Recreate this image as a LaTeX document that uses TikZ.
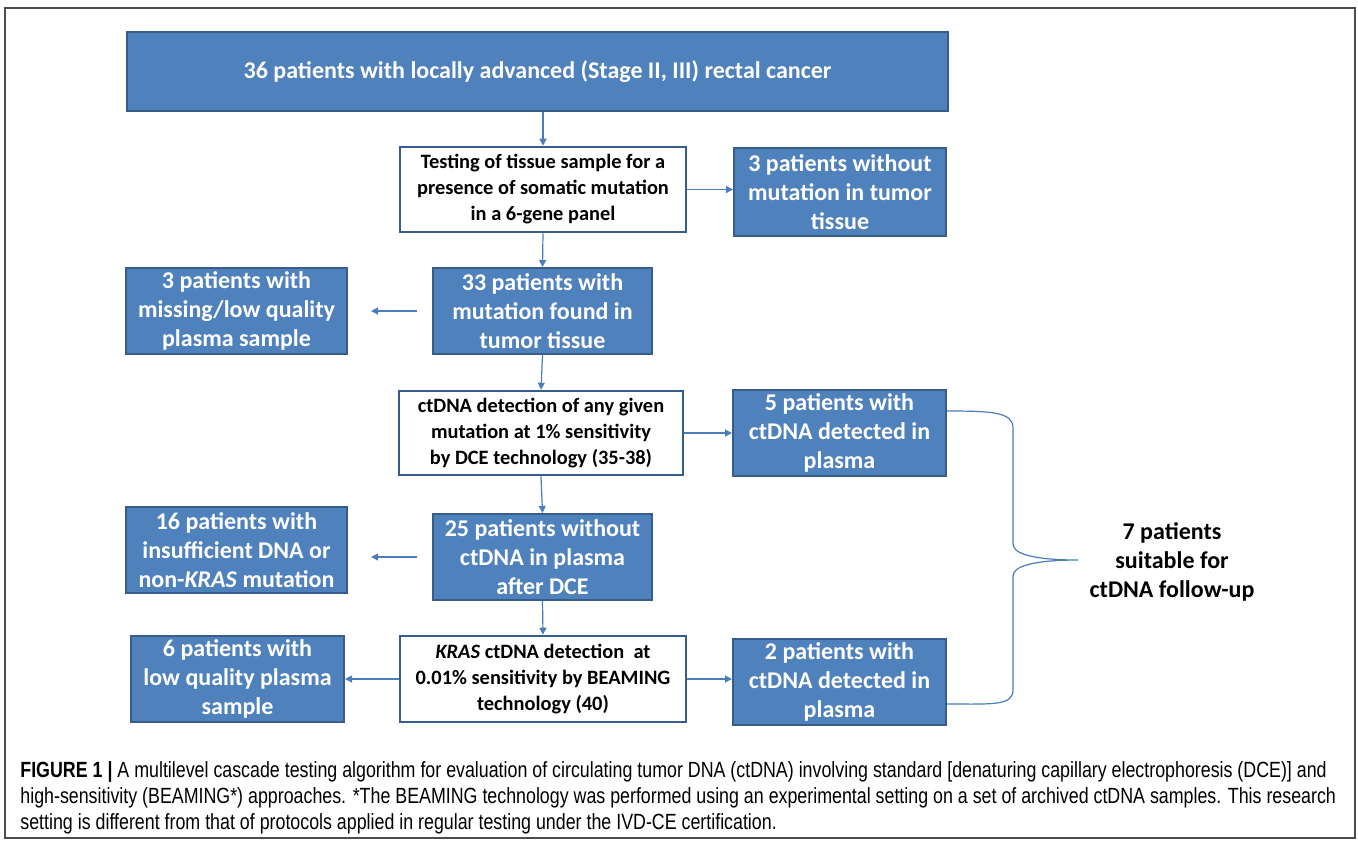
\documentclass[tikz,border=0pt]{standalone}
\usepackage{fontspec}
\setmainfont{Carlito}
\newfontfamily\capfont[FakeStretch=0.81]{Liberation Sans}
\usepackage{tikz}
\usetikzlibrary{arrows.meta,positioning,calc}
\definecolor{boxblue}{HTML}{4F81BD}
\definecolor{boxedge}{HTML}{385D8A}
\definecolor{linkblue}{HTML}{4A7EBB}

\begin{document}
\begin{tikzpicture}[
    x=0.5pt, y=-0.5pt,
    font=\bfseries\fontsize{12}{14.5}\selectfont,
    bluebox/.style={draw=boxedge, fill=boxblue, text=white, line width=1pt, align=center, minimum height=43pt, inner sep=1pt},
    testbox/.style={draw=boxedge, fill=white, text=black, line width=1.3pt, align=center, minimum height=42.5pt, minimum width=143pt, inner sep=1pt, font=\bfseries\fontsize{10.2}{13}\selectfont},
    arrow/.style={-{Triangle[length=3.5pt,width=3.5pt]}, linkblue, line width=0.6pt},
    brace/.style={linkblue, line width=0.6pt}
]
\useasboundingbox (0,0) rectangle (1358,843);
\draw[black!70, line width=0.7pt] (5,8) rectangle (1355,838);

% main column
\node[bluebox, minimum width=410.5pt, minimum height=39.5pt] (top) at (537.5,71.5) {36 patients with locally advanced (Stage II, III) rectal cancer};
\node[testbox] (tissue) at (543,189.5) {Testing of tissue sample for a\\presence of somatic mutation\\in a 6-gene panel};
\node[bluebox, minimum width=109.5pt] (mut) at (542.5,311) {33 patients with\\mutation found in\\tumor tissue};
\node[testbox, minimum width=142pt, minimum height=42pt] (dce) at (541,433) {ctDNA detection of any given\\mutation at 1\% sensitivity\\by DCE technology (35-38)};
\node[bluebox, minimum width=109.5pt] (nodce) at (542.5,557) {25 patients without\\ctDNA in plasma\\after DCE};
\node[testbox, minimum height=43pt] (beaming) at (543,679) {\textit{KRAS} ctDNA detection~ at\\0.01\% sensitivity by BEAMING\\technology (40)};

% right column
\node[bluebox, minimum width=106pt, minimum height=44pt] (nomut) at (840,192) {3 patients without\\mutation in tumor\\tissue};
\node[bluebox, minimum width=106.5pt] (dce5) at (839.5,433) {5 patients with\\ctDNA detected in\\plasma};
\node[bluebox, minimum width=106.5pt] (beam2) at (839.5,682) {2 patients with\\ctDNA detected in\\plasma};

% left column
\node[bluebox, minimum width=110.5pt] (missing) at (236.5,311) {3 patients with\\missing/low quality\\plasma sample};
\node[bluebox, minimum width=110.5pt] (insuff) at (236.5,550) {16 patients with\\insufficient DNA or\\non-\textit{KRAS} mutation};
\node[bluebox, minimum width=106.5pt] (lowq) at (237.5,679) {6 patients with\\low quality plasma\\sample};

% arrows
\draw[arrow] (top.south -| tissue.north) -- (tissue.north);
\draw[arrow] (tissue.east) -- (tissue.east -| nomut.west);
\draw[arrow] (tissue.south) -- (mut.north);
\draw[arrow, shorten <=7.5pt, shorten >=11.5pt] (mut.west) -- (mut.west -| missing.east);
\draw[arrow] (mut.south) -- (dce.north);
\draw[arrow] (dce.east) -- (dce.east -| dce5.west);
\draw[arrow] (dce.south) -- (nodce.north);
\draw[arrow, shorten <=7.5pt, shorten >=11.5pt] (nodce.west) -- (nodce.west -| insuff.east);
\draw[arrow] (nodce.south) -- (beaming.north);
\draw[arrow] (beaming.west) -- (beaming.west -| lowq.east);
\draw[arrow] (beaming.east) -- (beaming.east -| beam2.west);

% brace to the follow-up group
\coordinate (b1) at ($(dce5.north east)!0.25!(dce5.south east)$);
\coordinate (b2) at ($(beam2.north east)!0.75!(beam2.south east)$);
\coordinate (tip) at (1078,560);
\draw[brace] (b1) .. controls +(45,0) and +(0,-16) .. (1013,428) -- (1013,544)
  .. controls +(0,12) and +(-35,0) .. (tip)
  .. controls +(-35,0) and +(0,-12) .. (1013,576) -- (1013,690)
  .. controls +(0,16) and +(45,0) .. (b2);
\node[align=center] (follow) at (1172,562) {7 patients\\suitable for\\ctDNA follow-up};

% caption
\node[anchor=north west, align=left, inner sep=0pt, font=\capfont\mdseries\fontsize{11}{13}\selectfont] (caption) at (20,761)
  {\textbf{FIGURE 1 |} A multilevel cascade testing algorithm for evaluation of circulating tumor DNA (ctDNA) involving standard [denaturing capillary electrophoresis (DCE)] and\\
   high-sensitivity (BEAMING*) approaches. *The BEAMING technology was performed using an experimental setting on a set of archived ctDNA samples. This research\\
   setting is different from that of protocols applied in regular testing under the IVD-CE certification.};
\end{tikzpicture}
\end{document}
